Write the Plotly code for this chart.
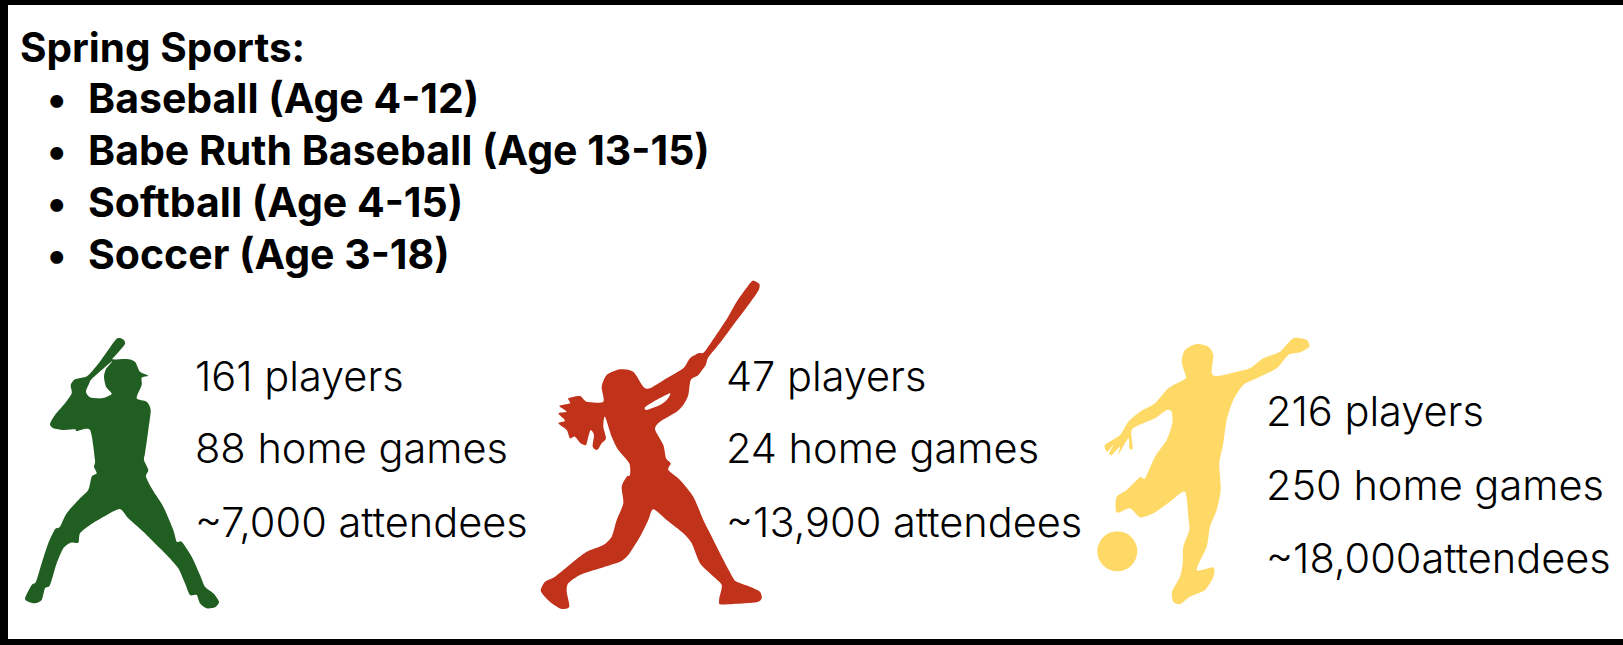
import plotly.graph_objects as go

heading = "Spring Sports:"
programs = ["Baseball (Age 4-12)", "Babe Ruth Baseball (Age 13-15)", "Softball (Age 4-15)", "Soccer (Age 3-18)"]
baseball_stats = ["161 players", "88 home games", "~7,000 attendees"]
softball_stats = ["47 players", "24 home games", "~13,900 attendees"]
soccer_stats = ["216 players", "250 home games", "~18,000attendees"]

GREEN, RED, YELLOW = "#215E21", "#C1321B", "#FFD966"
FONT = "Inter"

batter = [(352,205),(368,207),(375,222),(345,258),(338,268),(380,267),(405,275),(420,305),(445,317),(425,323),(425,345),(410,385),(440,395),(452,420),(445,480),(435,550),(432,570),(445,600),(438,620),(458,660),(490,710),(520,780),(530,815),(545,815),(575,860),(600,915),(615,950),(640,970),(657,995),(645,1012),(620,1015),(600,1000),(590,975),(570,975),(555,940),(535,895),(505,860),(480,835),(430,785),(385,745),(360,717),(320,735),(270,765),(240,790),(235,818),(212,818),(190,835),(170,880),(150,945),(135,955),(125,990),(105,1000),(85,995),(75,985),(95,945),(108,935),(125,880),(145,820),(165,778),(180,770),(200,730),(240,685),(265,660),(275,620),(290,610),(282,590),(285,570),(270,480),(230,483),(225,478),(190,480),(160,475),(150,462),(165,435),(195,400),(215,370),(212,345),(225,328),(262,318),(296,280),(333,228)]
batter_hole = [(336,274),(318,297),(312,320),(318,350),(335,372),(305,385),(270,382),(258,365),(268,340),(276,326)]

hitter = [(700,32),(718,42),(715,62),(680,112),(640,165),(605,212),(565,262),(557,285),(535,315),(512,330),(505,375),(490,405),(470,425),(420,455),(405,478),(430,525),(438,565),(452,580),(445,600),(480,630),(520,680),(550,750),(570,790),(605,860),(640,925),(650,935),(690,950),(720,965),(725,985),(710,997),(640,1002),(600,1003),(598,985),(605,945),(575,915),(540,880),(515,820),(490,790),(440,750),(400,718),(385,750),(360,800),(325,855),(300,875),(240,895),(180,915),(145,940),(140,965),(148,1010),(125,1017),(95,1000),(70,975),(62,960),(75,935),(105,920),(160,875),(200,845),(250,825),(275,800),(290,750),(310,700),(305,650),(320,620),(330,615),(328,580),(295,540),(275,500),(255,440),(250,470),(258,505),(245,520),(232,540),(218,530),(222,495),(212,480),(205,500),(198,525),(182,520),(165,500),(150,505),(140,480),(115,460),(135,452),(115,430),(140,425),(118,408),(150,400),(145,385),(180,378),(200,395),(250,395),(245,350),(260,315),(300,298),(340,305),(370,350),(390,355),(440,325),(490,295),(510,265),(535,250),(552,247),(585,200),(622,145),(650,95),(690,40)]
hitter_hole = [(375,412),(400,395),(450,370),(440,390),(420,405),(380,420)]

kicker = [(350,72),(385,80),(400,105),(395,160),(415,168),(470,155),(510,145),(550,115),(600,95),(640,55),(680,60),(688,80),(660,97),(625,105),(590,145),(530,175),(490,195),(460,240),(440,300),(430,370),(418,430),(422,510),(410,570),(390,620),(380,680),(350,750),(400,742),(400,770),(375,810),(330,830),(300,852),(280,845),(276,815),(300,770),(308,730),(310,680),(328,630),(325,590),(315,515),(270,545),(220,580),(180,592),(150,565),(115,578),(107,570),(110,530),(140,510),(180,472),(195,475),(225,410),(260,360),(277,310),(275,275),(260,270),(225,295),(190,310),(155,330),(158,385),(148,385),(145,355),(115,405),(120,380),(95,405),(88,400),(100,375),(82,395),(75,375),(120,345),(145,305),(180,275),(225,250),(265,205),(310,180),(318,170),(305,125),(315,90)]


def path(pts, ox, oy, k=0.12):
    # Closed Catmull-Rom outline so the traced silhouette stays rounded.
    p = [(ox + x / 3, oy + y / 3) for x, y in pts]
    n = len(p)
    d = f"M{p[0][0]:.1f},{p[0][1]:.1f}"
    for i in range(n):
        a, b, c, e = p[i - 1], p[i], p[(i + 1) % n], p[(i + 2) % n]
        c1 = (b[0] + (c[0] - a[0]) * k, b[1] + (c[1] - a[1]) * k)
        c2 = (c[0] - (e[0] - b[0]) * k, c[1] - (e[1] - b[1]) * k)
        d += f" C{c1[0]:.1f},{c1[1]:.1f} {c2[0]:.1f},{c2[1]:.1f} {c[0]:.1f},{c[1]:.1f}"
    return d + " Z"


def icon(rings, ox, oy, colour):
    return dict(type="path", xref="x", yref="y", fillcolor=colour, line_width=0, layer="above",
                path=" ".join(path(r, ox, oy) for r in rings))


shapes = [
    dict(type="rect", xref="x", yref="y", x0=8, x1=1623, y0=5, y1=639, fillcolor="white", line_width=0, layer="below"),
    icon([batter, batter_hole], 0, 270, GREEN),
    icon([hitter, hitter_hole], 520, 270, RED),
    icon([kicker], 1080, 320, YELLOW),
    dict(type="circle", xref="x", yref="y", x0=1097.3, x1=1137.3, y0=531.3, y1=571.3, fillcolor=YELLOW, line_width=0, layer="above"),
]

annotations = []


def label(text, x, y, size, weight):
    annotations.append(dict(text=text, x=x, y=y, xref="x", yref="y", xanchor="left", yanchor="middle",
                            showarrow=False, align="left",
                            font=dict(family=FONT, size=size, color="#000000", weight=weight)))


label(heading, 18, 47, 40.5, 700)
for text, y in zip(programs, [98, 150, 202, 254]):
    label("•", 45, y, 41, 700)
    label(text, 86, y, 41, 700)
for stats, x, ys in [(baseball_stats, 193, [376, 448, 522]),
                     (softball_stats, 724, [376, 448, 522]),
                     (soccer_stats, 1264, [411, 485, 558])]:
    for text, y in zip(stats, ys):
        label(text, x, y, 41.5, 300)

fig = go.Figure()
fig.update_layout(width=1623, height=645, margin=dict(l=0, r=0, t=0, b=0), paper_bgcolor="black",
                  plot_bgcolor="black", showlegend=False, shapes=shapes, annotations=annotations,
                  xaxis=dict(range=[0, 1623], visible=False, fixedrange=True),
                  yaxis=dict(range=[645, 0], visible=False, fixedrange=True))
fig.write_html("out.html", config={"displayModeBar": False},
               post_script="document.body.style.margin='0';document.body.style.overflow='hidden';")
